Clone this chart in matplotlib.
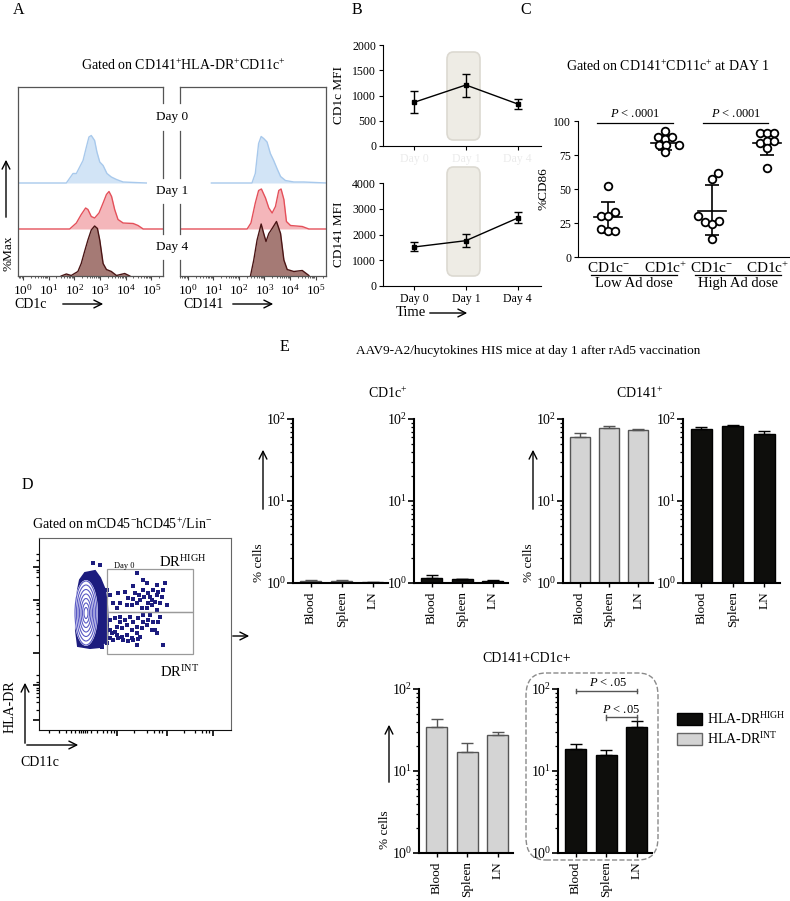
import numpy as np
import matplotlib
matplotlib.use('Agg')
import matplotlib.pyplot as plt
from matplotlib.patches import FancyBboxPatch, FancyArrowPatch, Rectangle, Ellipse, Polygon
from matplotlib.ticker import LogLocator, NullFormatter

plt.rcParams['font.family'] = ['Liberation Serif', 'DejaVu Serif']
plt.rcParams['mathtext.fontset'] = 'custom'
plt.rcParams['mathtext.rm'] = 'Liberation Serif'
plt.rcParams['mathtext.it'] = 'Liberation Serif:italic'
plt.rcParams['mathtext.bf'] = 'Liberation Serif:bold'

# ---- A: histograms (x = log10 intensity, y = %Max) ----
cd1c_x_d0 = [-0.22, 1.69, 1.95, 2.08, 2.21, 2.34, 2.47, 2.57, 2.66, 2.79, 2.88, 2.99, 3.12, 3.27, 3.44, 3.64, 3.9, 4.8]
cd1c_y_d0 = [0, 0, 19, 19, 32, 45, 72, 92, 95, 85, 62, 42, 35, 19, 12, 7, 2, 0]
cd1c_x_d1 = [-0.22, 1.82, 2.08, 2.27, 2.44, 2.53, 2.66, 2.79, 2.96, 3.12, 3.25, 3.35, 3.45, 3.57, 3.7, 3.9, 4.29, 4.48, 4.68, 5.45]
cd1c_y_d1 = [0, 0, 12, 29, 42, 39, 25, 22, 32, 52, 69, 75, 65, 39, 19, 12, 11, 7, 0, 0]
cd1c_x_d4 = [1.49, 1.69, 1.88, 2.14, 2.27, 2.4, 2.53, 2.66, 2.79, 2.9, 2.99, 3.12, 3.25, 3.44, 3.64, 3.96, 4.16]
cd1c_y_d4 = [0, 4, 1, 9, 25, 49, 72, 92, 100, 95, 72, 25, 13, 9, 1, 5, 0]
cd141_x_d0 = [0.92, 2.51, 2.64, 2.77, 2.87, 2.97, 3.1, 3.23, 3.36, 3.49, 3.63, 3.82, 4.15, 4.54, 5.43]
cd141_y_d0 = [0, 0, 19, 79, 93, 89, 82, 59, 45, 29, 13, 5, 2, 2, 0]
cd141_x_d1 = [-0.31, 2.32, 2.47, 2.64, 2.77, 2.88, 3.04, 3.17, 3.3, 3.43, 3.56, 3.65, 3.76, 3.86, 4.02, 4.48, 4.74, 5.43]
cd141_y_d1 = [0, 0, 12, 52, 77, 80, 62, 42, 32, 45, 77, 80, 59, 15, 7, 5, 0, 0]
cd141_x_d4 = [2.45, 2.58, 2.71, 2.87, 2.97, 3.06, 3.17, 3.3, 3.47, 3.63, 3.76, 3.89, 4.15, 4.48, 4.74]
cd141_y_d4 = [0, 32, 72, 104, 85, 69, 85, 95, 109, 85, 32, 13, 9, 11, 1]
hist_days = ['Day 0', 'Day 1', 'Day 4']

# ---- B: MFI over time ----
days = ['Day 0', 'Day 1', 'Day 4']
cd1c_mfi = [865, 1208, 832]
cd1c_mfi_lo = [647, 964, 733]
cd1c_mfi_hi = [1096, 1426, 930]
cd141_mfi = [1515, 1760, 2640]
cd141_mfi_lo = [1370, 1500, 2460]
cd141_mfi_hi = [1700, 2010, 2890]

# ---- C: %CD86 ----
c_groups = ['CD1c$^{-}$', 'CD1c$^{+}$', 'CD1c$^{-}$', 'CD1c$^{+}$']
c_low_neg = [52, 30, 30, 33, 20.5, 19, 19.3]
c_low_neg_dx = [0, -0.13, 0, 0.12, -0.12, 0, 0.12]
c_low_pos = [93, 88, 87, 88, 82, 82, 82, 77]
c_low_pos_dx = [0, -0.12, 0, 0.12, -0.1, 0.02, 0.25, 0]
c_high_neg = [62, 57, 30, 26, 24.4, 26.8, 13.4]
c_high_neg_dx = [0.1, 0, -0.25, -0.13, 0, 0.12, 0]
c_high_pos = [91, 91, 91, 84, 85.4, 85.4, 80.5, 65.6]
c_high_pos_dx = [-0.12, 0, 0.12, -0.12, 0, 0.12, 0, 0]
c_mean = [29.5, 84, 34, 84]
c_sd_lo = [17.6, 78.5, 16, 75]
c_sd_hi = [40.7, 89, 53, 93]

# ---- D: flow events (arbitrary channel units) ----
blob_x = [46, 56, 61, 66, 68, 69, 68, 61, 51, 39, 37, 37, 39, 41]
blob_y = [157, 159, 152, 140, 125, 105, 90, 83, 82, 84, 100, 125, 140, 150]
ring_w = [22, 19, 16, 13, 10, 7, 4]
ring_h = [64, 56, 47, 38, 29, 20, 11]
ev_x = [71, 79, 86, 89, 94, 98, 101, 104, 108, 109, 113, 114, 118, 121, 126, 128, 123, 104, 103, 108,
        96, 81, 93, 98, 113, 118, 109, 100, 105, 111, 116, 119, 94, 88, 78, 74, 118, 124,
        71, 76, 81, 86, 91, 94, 99, 104, 109, 114, 119, 78, 83, 88, 93, 98, 103, 108, 113, 116,
        73, 78, 83, 88, 93, 98, 101, 74, 79, 84, 89, 94, 99, 124, 98, 71, 76, 104, 111, 121, 81, 71, 118,
        68, 66, 67, 68, 63, 54, 61]
ev_y = [135, 137, 138, 132, 131, 127, 130, 140, 147, 137, 130, 140, 135, 127, 147, 125, 133, 150, 122, 122,
        137, 127, 125, 157, 125, 145, 127, 135, 133, 133, 128, 138, 144, 125, 122, 127, 120, 140,
        110, 112, 113, 110, 113, 108, 112, 115, 110, 108, 108, 103, 102, 105, 100, 103, 102, 105, 100, 100,
        97, 95, 93, 95, 92, 97, 93, 90, 92, 90, 89, 90, 91, 85, 85, 100, 98, 108, 115, 113, 108, 92, 97,
        140, 120, 103, 87, 83, 167, 165]
gate_high = (68, 118, 86, 43)
gate_int = (68, 76, 86, 42)

# ---- E: % cells ----
sites = ['Blood', 'Spleen', 'LN']
cd1c_int = [1.05, 1.05, 1.02]
cd1c_int_hi = [1.08, 1.08, 1.04]
cd1c_high = [1.15, 1.11, 1.05]
cd1c_high_hi = [1.24, 1.13, 1.08]
cd141_int = [60, 77, 73.5]
cd141_int_hi = [68, 82, 75.5]
cd141_high = [75, 82, 65.6]
cd141_high_hi = [79, 84.5, 71]
dp_int = [34.8, 17, 27.3]
dp_int_hi = [43, 22, 30]
dp_high = [18.4, 15.6, 34.1]
dp_high_hi = [21.2, 18.1, 41.2]

W, H = 790, 901
fig = plt.figure(figsize=(7.9, 9.01), dpi=100)


def fax(l, t, r, b):
    return fig.add_axes([l / W, 1 - b / H, (r - l) / W, (b - t) / H])


def ftext(x, y, s, **kw):
    kw.setdefault('ha', 'center')
    kw.setdefault('va', 'center')
    fig.text(x / W, 1 - y / H, s, **kw)


def farrow(x1, y1, x2, y2, lw=1.0):
    fig.add_artist(FancyArrowPatch((x1 / W, 1 - y1 / H), (x2 / W, 1 - y2 / H),
                                   transform=fig.transFigure, arrowstyle='->',
                                   mutation_scale=14, lw=lw, color='k'))


# ================= A =================
ftext(19, 10, 'A', fontsize=11.5)
ftext(183, 65, 'Gated on CD141$^{+}$HLA-DR$^{+}$CD11c$^{+}$', fontsize=10)
lane_base = [93, 47, 0]
lane_line = ['#a8c9ec', '#e4505a', '#4a1515']
lane_fill = ['#d2e4f6', '#f4b6ba', '#a57a75']
axL = fax(18, 87, 163, 276)
axR = fax(180, 87, 326, 276)
sets = [(axL, [(cd1c_x_d0, cd1c_y_d0), (cd1c_x_d1, cd1c_y_d1), (cd1c_x_d4, cd1c_y_d4)], (-0.19, 5.45), 'right'),
        (axR, [(cd141_x_d0, cd141_y_d0), (cd141_x_d1, cd141_y_d1), (cd141_x_d4, cd141_y_d4)], (-0.31, 5.41), 'left')]
for ax, curves, (lo, hi), broken in sets:
    for (xs, ys), base, lc, fc in zip(curves, lane_base, lane_line, lane_fill):
        xx = 10 ** np.array(xs)
        yy = base + 0.5 * np.array(ys)
        ax.fill_between(xx, base, yy, color=fc, lw=0)
        ax.plot(xx, yy, color=lc, lw=1)
    ax.set_xscale('log')
    ax.set_xlim(10 ** lo, 10 ** hi)
    ax.set_ylim(0, 189)
    ax.set_yticks([])
    ax.xaxis.set_major_locator(LogLocator(base=10, numticks=12))
    ax.xaxis.set_minor_locator(LogLocator(base=10, subs=np.arange(2, 10), numticks=12))
    ax.xaxis.set_minor_formatter(NullFormatter())
    ax.tick_params(axis='x', which='major', length=3, labelsize=9.5, pad=2, color='#444')
    ax.tick_params(axis='x', which='minor', length=1.5, color='#444')
    for s in ax.spines.values():
        s.set_color('#555')
        s.set_linewidth(0.9)
    ax.spines[broken].set_visible(False)
    xs_ = 1 if broken == 'right' else 0
    for a, b in [(87, 103), (131, 178), (204, 234), (260, 276)]:
        ax.plot([xs_, xs_], [(276 - a) / 189, (276 - b) / 189], transform=ax.transAxes,
                color='#555', lw=0.9, clip_on=False)
for lab, yy in zip(hist_days, [117, 191, 247]):
    ftext(172, yy, lab, fontsize=9.5)
ftext(8, 253, '%Max', rotation=90, fontsize=9.5)
farrow(6, 220, 6, 157)
ftext(14, 304, 'CD1c', fontsize=10, ha='left')
farrow(60, 304, 106, 304)
ftext(183, 304, 'CD141', fontsize=10, ha='left')
farrow(230, 304, 276, 304)

# ================= B =================
ftext(357, 10, 'B', fontsize=11.5)
for top, bot in [(52, 140), (167, 276)]:
    fig.add_artist(FancyBboxPatch((447 / W, 1 - bot / H), 33 / W, (bot - top) / H,
                                  boxstyle='round,pad=0,rounding_size=0.008', transform=fig.transFigure,
                                  fc='#eeece5', ec='#dcd9d1', lw=1.2, zorder=-1))
bx = np.arange(len(days))
axB1 = fax(383, 45, 541, 146)
axB2 = fax(383, 183, 541, 286)
for ax, m, lo, hi, ymax, step, lab, col in [
        (axB1, cd1c_mfi, cd1c_mfi_lo, cd1c_mfi_hi, 2000, 500, 'CD1c MFI', '#ebebeb'),
        (axB2, cd141_mfi, cd141_mfi_lo, cd141_mfi_hi, 4000, 1000, 'CD141 MFI', 'k')]:
    m = np.array(m)
    ax.errorbar(bx, m, yerr=[m - np.array(lo), np.array(hi) - m], fmt='-s', color='k',
                ms=3.5, capsize=3, lw=1, elinewidth=1, capthick=1)
    ax.set_facecolor('none')
    ax.set_xlim(-0.6, 2.45)
    ax.set_ylim(0, ymax)
    ax.set_yticks(np.arange(0, ymax + 1, step))
    ax.set_xticks(bx)
    ax.set_xticklabels(days, color=col, fontsize=8.5 if col == 'k' else 5)
    ax.spines['top'].set_visible(False)
    ax.spines['right'].set_visible(False)
    ax.tick_params(labelsize=8.5, length=3, pad=2)
    ax.set_ylabel(lab, fontsize=9.5, labelpad=5)
ftext(411, 313, 'Time', fontsize=10.5)
farrow(427, 313, 470, 313)

# ================= C =================
ftext(526, 10, 'C', fontsize=11.5)
ftext(668, 66, 'Gated on CD141$^{+}$CD11c$^{+}$ at DAY 1', fontsize=10)
axC = fax(578, 121, 790, 257)
cx = [0, 1, 1.82, 2.79]
c_pts = [(c_low_neg, c_low_neg_dx), (c_low_pos, c_low_pos_dx),
         (c_high_neg, c_high_neg_dx), (c_high_pos, c_high_pos_dx)]
for x0, (vals, dx), mu, lo, hi in zip(cx, c_pts, c_mean, c_sd_lo, c_sd_hi):
    axC.plot([x0 - 0.25, x0 + 0.25], [mu, mu], color='k', lw=1.2)
    axC.errorbar([x0], [mu], yerr=[[mu - lo], [hi - mu]], fmt='none', ecolor='k',
                 capsize=5, elinewidth=1.2, capthick=1.2)
    axC.plot(x0 + np.array(dx), vals, 'o', mfc='white', mec='k', ms=5.5, mew=1.3, zorder=3)
axC.set_xlim(-0.53, 3.19)
axC.set_ylim(0, 100)
axC.set_yticks([0, 25, 50, 75, 100])
axC.set_xticks(cx)
axC.set_xticklabels(c_groups, fontsize=11)
axC.tick_params(axis='x', length=0, pad=3)
axC.tick_params(axis='y', labelsize=8.5, length=3, pad=2)
axC.spines['top'].set_visible(False)
axC.spines['right'].set_visible(False)
axC.set_ylabel('%CD86', fontsize=9.5, labelpad=3)
for xa, xb in [(-0.19, 1.14), (1.67, 2.81)]:
    axC.plot([xa, xb], [98.5, 98.5], color='k', lw=0.9, clip_on=False)
    axC.text((xa + xb) / 2, 100.5, '$P$ < .0001', ha='center', va='bottom', fontsize=9)
for xa, xb, lab in [(-0.3, 1.2, 'Low Ad dose'), (1.53, 3.03, 'High Ad dose')]:
    axC.plot([xa, xb], [-13.2, -13.2], color='k', lw=0.9, clip_on=False)
    axC.text((xa + xb) / 2, -14.5, lab, ha='center', va='top', fontsize=10.5)

# ================= D =================
ftext(27, 485, 'D', fontsize=11.5)
ftext(122, 524, 'Gated on mCD45$^{-}$hCD45$^{+}$/Lin$^{-}$', fontsize=10)
axD = fax(39, 538, 231, 730)
navy = '#1c1c7e'
axD.add_patch(Polygon(np.column_stack([blob_x, blob_y]), closed=True, fc=navy, ec=navy, lw=1.5))
axD.add_patch(Ellipse((47, 117), ring_w[0] + 2, ring_h[0] + 2, fc='white', ec='none'))
for w, h in zip(ring_w, ring_h):
    axD.add_patch(Ellipse((47, 117), w, h, fc='none', ec='#5a5ac4', lw=0.8))
axD.scatter(ev_x, ev_y, s=7, marker='s', color=navy, lw=0)
for g in [gate_high, gate_int]:
    axD.add_patch(Rectangle(g[:2], g[2], g[3], fill=False, ec='#9a9a9a', lw=0.9))
axD.text(75, 164, 'Day 0', fontsize=6, ha='left', va='center')
axD.text(144, 168, 'DR$^{\\mathrm{HIGH}}$', fontsize=10.5, ha='center', va='center')
axD.text(141, 58, 'DR$^{\\mathrm{INT}}$', fontsize=10.5, ha='center', va='center')
axD.set_xlim(0, 192)
axD.set_ylim(0, 192)
axD.set_xticks([78, 128, 174])
axD.set_xticks([10, 20, 27, 32, 36, 40, 42, 44, 46, 48, 52, 58, 64, 68, 72, 75, 95, 108, 115, 120, 123,
                145, 156, 163, 167, 170], minor=True)
axD.set_yticks([10, 45, 77, 130, 163])
axD.set_yticks([20, 28, 33, 37, 40, 42, 48, 55, 95, 108, 116, 121, 125, 127, 145, 153, 158, 160, 170, 176],
               minor=True)
axD.set_xticklabels([])
axD.set_yticklabels([])
axD.tick_params(which='major', length=4, width=1.2)
axD.tick_params(which='minor', length=2.5, width=0.9)
for side, c in [('left', '#111'), ('bottom', '#111'), ('top', '#666'), ('right', '#666')]:
    axD.spines[side].set_color(c)
ftext(10, 707, 'HLA-DR', rotation=90, fontsize=10)
farrow(25, 746, 25, 680)
farrow(24, 745, 81, 745)
ftext(40, 762, 'CD11c', fontsize=10)
farrow(230, 636, 252, 636)

# ================= E =================
ftext(284, 347, 'E', fontsize=11.5)
ftext(528, 351, 'AAV9-A2/hucytokines HIS mice at day 1 after rAd5 vaccination', fontsize=9.5)
ftext(388, 393, 'CD1c$^{+}$', fontsize=10)
ftext(640, 393, 'CD141$^{+}$', fontsize=10)
ftext(527, 658, 'CD141+CD1c+', fontsize=10)
grey = '#d4d4d4'
ex = np.arange(len(sites))
panels = [((293, 419, 388, 583), cd1c_int, cd1c_int_hi, grey, '#555'),
          ((414, 419, 508, 583), cd1c_high, cd1c_high_hi, '#0e0e0c', 'k'),
          ((563, 419, 653, 583), cd141_int, cd141_int_hi, grey, '#555'),
          ((683, 419, 780, 583), cd141_high, cd141_high_hi, '#0e0e0c', 'k'),
          ((419, 689, 513, 853), dp_int, dp_int_hi, grey, '#555'),
          ((558, 689, 652, 853), dp_high, dp_high_hi, '#0e0e0c', 'k')]
e_axes = []
for (l, t, r, b), vals, his, fc, ec in panels:
    ax = fax(l, t, r, b)
    vals = np.array(vals)
    ax.bar(ex, vals, width=0.68, color=fc, edgecolor=ec, lw=1)
    ax.errorbar(ex, vals, yerr=[np.zeros(3), np.array(his) - vals], fmt='none', ecolor=ec,
                capsize=4, elinewidth=1, capthick=1)
    ax.set_yscale('log')
    ax.set_ylim(1, 100)
    ax.set_xlim(-0.58, 2.5)
    ax.yaxis.set_major_locator(LogLocator(base=10, numticks=5))
    ax.yaxis.set_minor_locator(LogLocator(base=10, subs=np.arange(2, 10), numticks=5))
    ax.yaxis.set_minor_formatter(NullFormatter())
    ax.set_xticks(ex)
    ax.set_xticklabels(sites, rotation=90, fontsize=9.5)
    ax.tick_params(axis='y', which='major', length=4, width=1.2, labelsize=10, pad=1)
    ax.tick_params(axis='y', which='minor', length=2.5, width=0.9)
    ax.tick_params(axis='x', length=3, width=1, pad=3)
    ax.spines['top'].set_visible(False)
    ax.spines['right'].set_visible(False)
    ax.spines['left'].set_linewidth(1.5)
    ax.spines['bottom'].set_linewidth(1.5)
    ax.set_facecolor('none')
    e_axes.append(ax)

# significance in the HLA-DR high panel
axS = e_axes[5]
for xa, yb, lab in [(0, 95, '$P$ < .05'), (1, 45, '$P$ < .05')]:
    axS.plot([xa, 2], [yb, yb], color='#555', lw=1, clip_on=False)
    axS.plot([xa, xa], [yb * 0.94, yb * 1.06], color='#555', lw=1, clip_on=False)
    axS.plot([2, 2], [yb * 0.94, yb * 1.06], color='#555', lw=1, clip_on=False)
    axS.text((xa + 2) / 2 + (0.05 if xa == 0 else 0), yb * 1.04, lab, ha='center', va='bottom', fontsize=9)
fig.add_artist(FancyBboxPatch((526 / W, 1 - 860 / H), 132 / W, 187 / H,
                              boxstyle='round,pad=0,rounding_size=0.025', transform=fig.transFigure,
                              fill=False, ec='#8a8a8a', lw=1, ls='--', zorder=3))

for xl, yl, ya, yb in [(259, 563, 512, 447), (529, 563, 512, 447), (385, 830, 785, 722)]:
    ftext(xl, yl, '% cells', rotation=90, fontsize=9.5)
    farrow(xl + 4, ya, xl + 4, yb)

# legend
fig.add_artist(Rectangle((677 / W, 1 - 725 / H), 25 / W, 12 / H, transform=fig.transFigure,
                         fc='#0e0e0c', ec='k', lw=1))
fig.add_artist(Rectangle((677 / W, 1 - 745 / H), 25 / W, 12 / H, transform=fig.transFigure,
                         fc=grey, ec='#666', lw=1))
ftext(707, 719, 'HLA-DR$^{\\mathrm{HIGH}}$', fontsize=10, ha='left')
ftext(707, 739, 'HLA-DR$^{\\mathrm{INT}}$', fontsize=10, ha='left')

fig.savefig('out.png', dpi=100)
